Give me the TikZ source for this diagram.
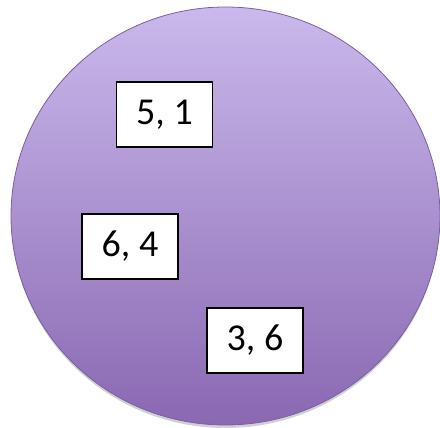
\documentclass[tikz,border=0pt]{standalone}
\usepackage{fontspec}
\setmainfont{Carlito}
\usepackage{xcolor}
\usepackage{tikz}
\usetikzlibrary{shapes.geometric, positioning}

\definecolor{lavtop}{HTML}{CAB9EC}
\definecolor{lavbot}{HTML}{8A68B2}
\definecolor{lavrim}{HTML}{7A5FA2}

\begin{document}
\begin{tikzpicture}[x=1pt, y=1pt]
\tikzstyle{pool} = [ellipse, draw=lavrim, line width=0.8pt, top color=lavtop, bottom color=lavbot, minimum width=429pt, minimum height=418pt, inner sep=0pt]
\tikzstyle{pair} = [rectangle, draw, fill=white, line width=1.2pt, minimum width=96pt, minimum height=65pt, font=\fontsize{38}{42}\selectfont]

\useasboundingbox (0,0) rectangle (440,428);
\fill [black, opacity=0.18] (225.5,209) ellipse [x radius=214pt, y radius=209pt];
\node [pool] (pool) at (225.5,212) {};

\node [pair] (p51) at (164.5,313.5) {5, 1};
\node [pair] (p64) at (130,181.5) {6, 4};
\node [pair] (p36) at (255,87.5) {3, 6};

\end{tikzpicture}
\end{document}
